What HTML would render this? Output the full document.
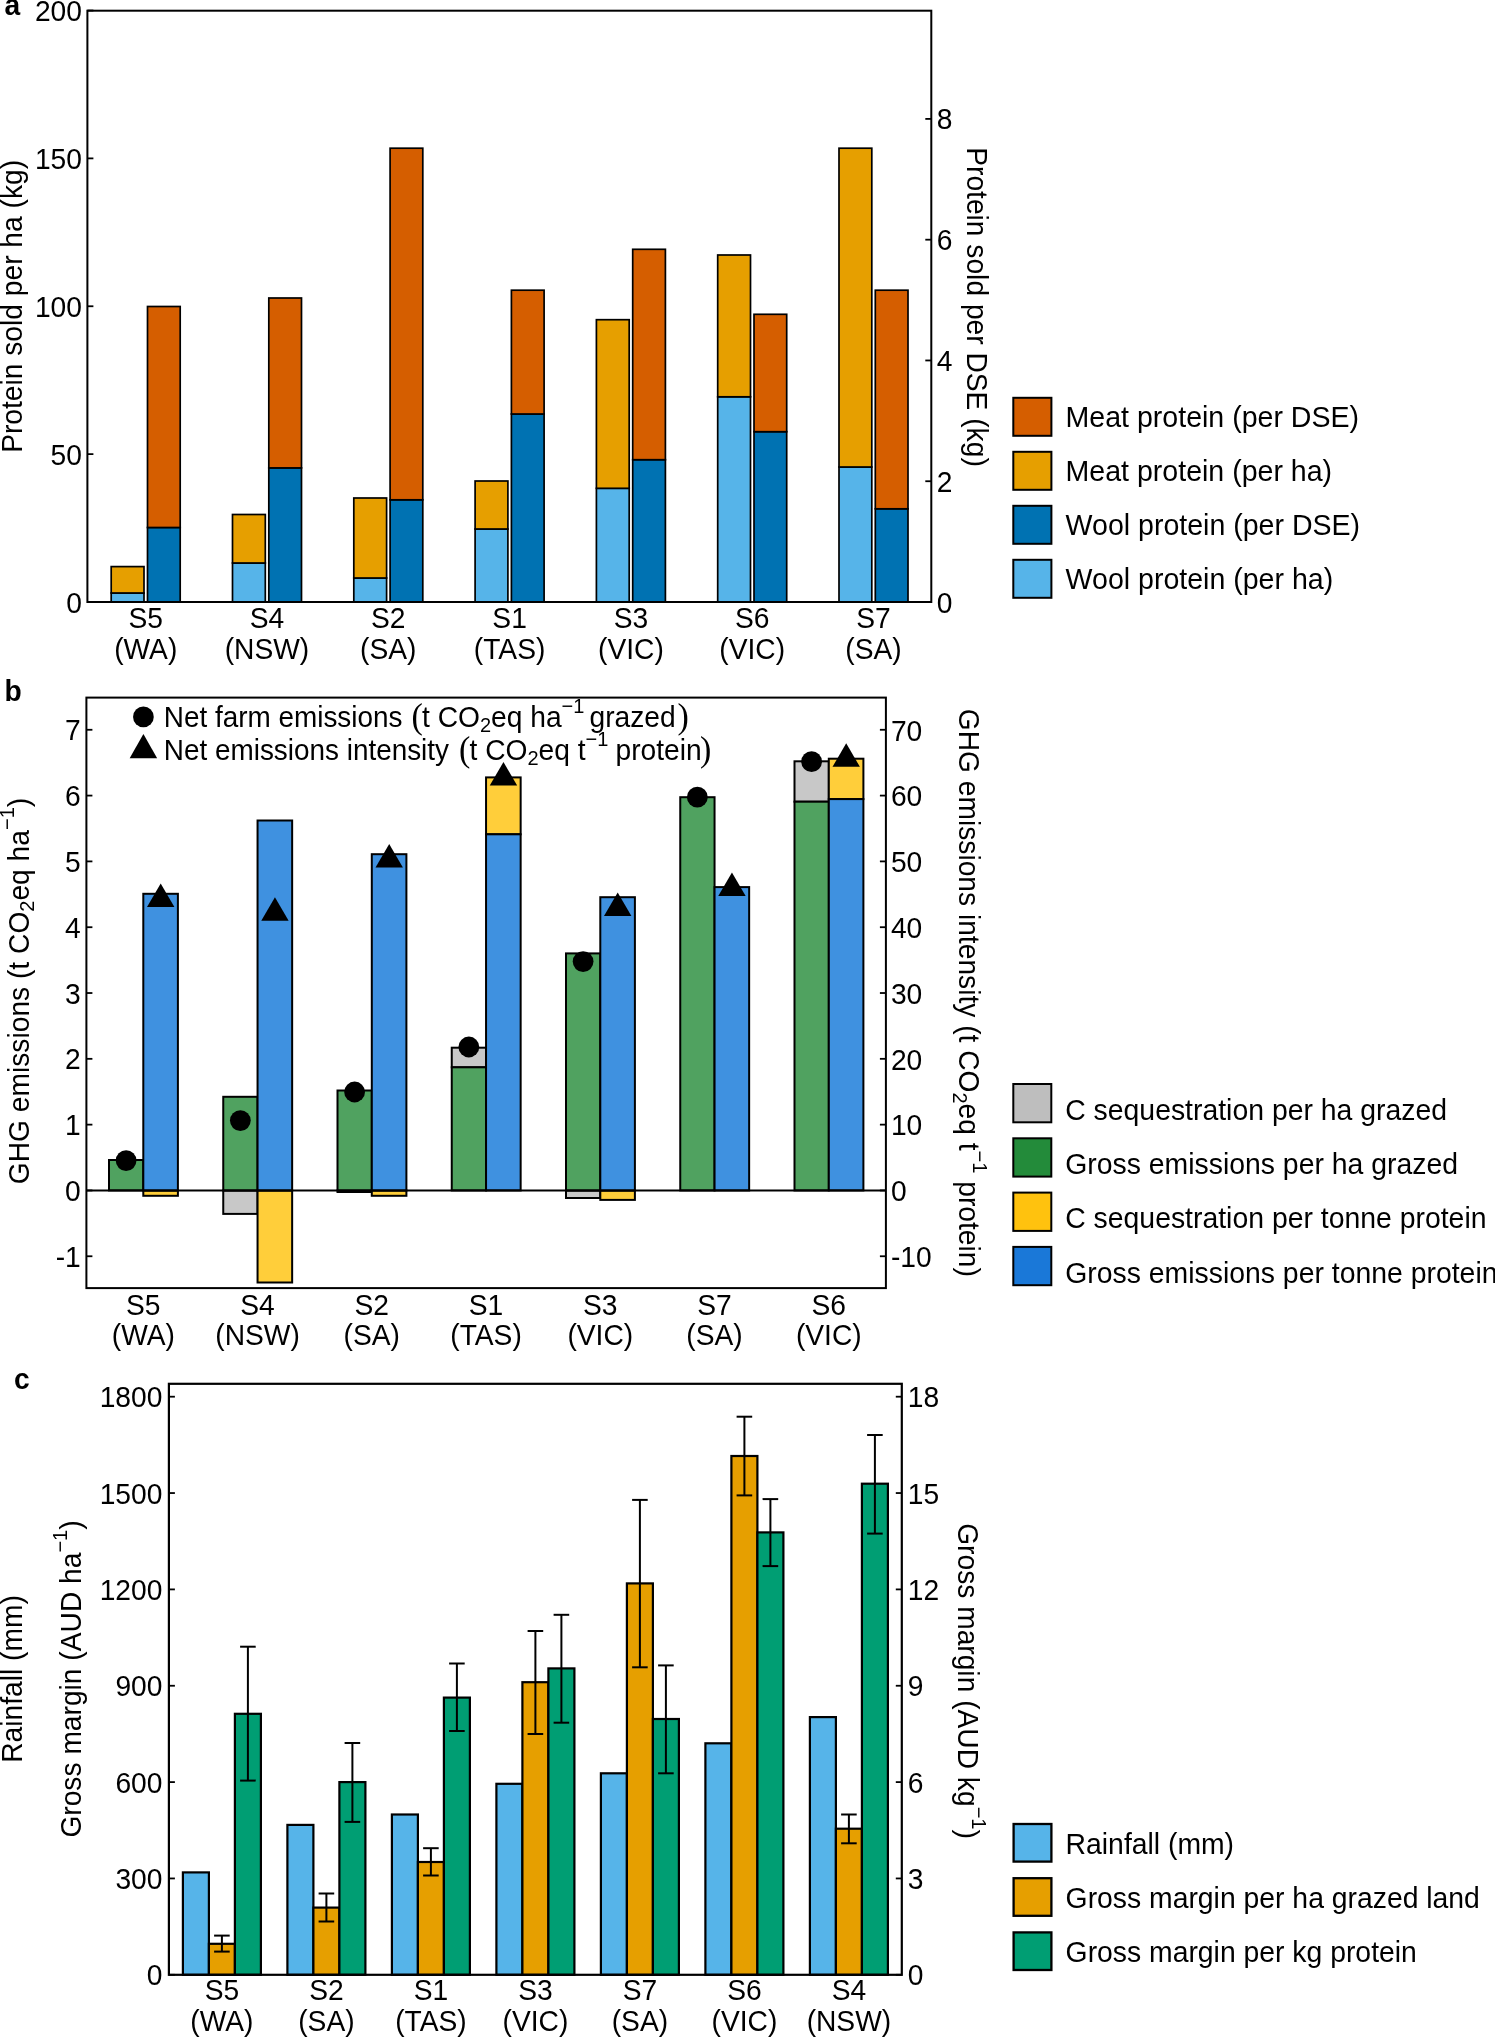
<!DOCTYPE html>
<html><head><meta charset="utf-8"><title>Figure</title>
<style>
html,body{margin:0;padding:0;background:#fff;}
body{width:1495px;height:2038px;overflow:hidden;}
svg{display:block;will-change:transform;}
text{font-family:"Liberation Sans", sans-serif;fill:#000;}
</style></head>
<body>
<svg width="1495" height="2038" viewBox="0 0 1495 2038">
<rect x="0" y="0" width="1495" height="2038" fill="#fff"/>
<rect x="111.20" y="593.00" width="32.80" height="9.00" fill="#56B4E9" stroke="#000" stroke-width="1.7"/>
<rect x="111.20" y="566.60" width="32.80" height="26.40" fill="#E69F00" stroke="#000" stroke-width="1.7"/>
<rect x="147.50" y="527.50" width="32.70" height="74.50" fill="#0072B2" stroke="#000" stroke-width="1.7"/>
<rect x="147.50" y="306.50" width="32.70" height="221.00" fill="#D55E00" stroke="#000" stroke-width="1.7"/>
<rect x="232.50" y="563.00" width="32.80" height="39.00" fill="#56B4E9" stroke="#000" stroke-width="1.7"/>
<rect x="232.50" y="514.50" width="32.80" height="48.50" fill="#E69F00" stroke="#000" stroke-width="1.7"/>
<rect x="268.80" y="467.90" width="32.70" height="134.10" fill="#0072B2" stroke="#000" stroke-width="1.7"/>
<rect x="268.80" y="298.00" width="32.70" height="169.90" fill="#D55E00" stroke="#000" stroke-width="1.7"/>
<rect x="353.80" y="578.00" width="32.80" height="24.00" fill="#56B4E9" stroke="#000" stroke-width="1.7"/>
<rect x="353.80" y="498.00" width="32.80" height="80.00" fill="#E69F00" stroke="#000" stroke-width="1.7"/>
<rect x="390.10" y="499.80" width="32.70" height="102.20" fill="#0072B2" stroke="#000" stroke-width="1.7"/>
<rect x="390.10" y="148.20" width="32.70" height="351.60" fill="#D55E00" stroke="#000" stroke-width="1.7"/>
<rect x="475.10" y="529.00" width="32.80" height="73.00" fill="#56B4E9" stroke="#000" stroke-width="1.7"/>
<rect x="475.10" y="481.00" width="32.80" height="48.00" fill="#E69F00" stroke="#000" stroke-width="1.7"/>
<rect x="511.40" y="414.00" width="32.70" height="188.00" fill="#0072B2" stroke="#000" stroke-width="1.7"/>
<rect x="511.40" y="290.20" width="32.70" height="123.80" fill="#D55E00" stroke="#000" stroke-width="1.7"/>
<rect x="596.40" y="488.30" width="32.80" height="113.70" fill="#56B4E9" stroke="#000" stroke-width="1.7"/>
<rect x="596.40" y="319.70" width="32.80" height="168.60" fill="#E69F00" stroke="#000" stroke-width="1.7"/>
<rect x="632.70" y="459.70" width="32.70" height="142.30" fill="#0072B2" stroke="#000" stroke-width="1.7"/>
<rect x="632.70" y="249.30" width="32.70" height="210.40" fill="#D55E00" stroke="#000" stroke-width="1.7"/>
<rect x="717.70" y="396.80" width="32.80" height="205.20" fill="#56B4E9" stroke="#000" stroke-width="1.7"/>
<rect x="717.70" y="255.00" width="32.80" height="141.80" fill="#E69F00" stroke="#000" stroke-width="1.7"/>
<rect x="754.00" y="431.70" width="32.70" height="170.30" fill="#0072B2" stroke="#000" stroke-width="1.7"/>
<rect x="754.00" y="314.30" width="32.70" height="117.40" fill="#D55E00" stroke="#000" stroke-width="1.7"/>
<rect x="839.00" y="467.00" width="32.80" height="135.00" fill="#56B4E9" stroke="#000" stroke-width="1.7"/>
<rect x="839.00" y="148.20" width="32.80" height="318.80" fill="#E69F00" stroke="#000" stroke-width="1.7"/>
<rect x="875.30" y="508.80" width="32.70" height="93.20" fill="#0072B2" stroke="#000" stroke-width="1.7"/>
<rect x="875.30" y="290.20" width="32.70" height="218.60" fill="#D55E00" stroke="#000" stroke-width="1.7"/>
<rect x="87.4" y="10.7" width="843.90" height="591.30" fill="none" stroke="#000" stroke-width="2.0"/>
<line x1="87.40" y1="602.00" x2="93.40" y2="602.00" stroke="#000" stroke-width="1.8"/>
<text transform="translate(81.90,612.50) scale(1,1.03)" text-anchor="end" font-size="28.2" font-weight="normal" >0</text>
<line x1="87.40" y1="454.13" x2="93.40" y2="454.13" stroke="#000" stroke-width="1.8"/>
<text transform="translate(81.90,464.63) scale(1,1.03)" text-anchor="end" font-size="28.2" font-weight="normal" >50</text>
<line x1="87.40" y1="306.26" x2="93.40" y2="306.26" stroke="#000" stroke-width="1.8"/>
<text transform="translate(81.90,316.76) scale(1,1.03)" text-anchor="end" font-size="28.2" font-weight="normal" >100</text>
<line x1="87.40" y1="158.39" x2="93.40" y2="158.39" stroke="#000" stroke-width="1.8"/>
<text transform="translate(81.90,168.89) scale(1,1.03)" text-anchor="end" font-size="28.2" font-weight="normal" >150</text>
<line x1="87.40" y1="10.52" x2="93.40" y2="10.52" stroke="#000" stroke-width="1.8"/>
<text transform="translate(81.90,21.02) scale(1,1.03)" text-anchor="end" font-size="28.2" font-weight="normal" >200</text>
<line x1="925.30" y1="602.00" x2="931.30" y2="602.00" stroke="#000" stroke-width="1.8"/>
<text transform="translate(936.80,612.50) scale(1,1.03)" text-anchor="start" font-size="28.2" font-weight="normal" >0</text>
<line x1="925.30" y1="481.23" x2="931.30" y2="481.23" stroke="#000" stroke-width="1.8"/>
<text transform="translate(936.80,491.73) scale(1,1.03)" text-anchor="start" font-size="28.2" font-weight="normal" >2</text>
<line x1="925.30" y1="360.46" x2="931.30" y2="360.46" stroke="#000" stroke-width="1.8"/>
<text transform="translate(936.80,370.96) scale(1,1.03)" text-anchor="start" font-size="28.2" font-weight="normal" >4</text>
<line x1="925.30" y1="239.69" x2="931.30" y2="239.69" stroke="#000" stroke-width="1.8"/>
<text transform="translate(936.80,250.19) scale(1,1.03)" text-anchor="start" font-size="28.2" font-weight="normal" >6</text>
<line x1="925.30" y1="118.92" x2="931.30" y2="118.92" stroke="#000" stroke-width="1.8"/>
<text transform="translate(936.80,129.42) scale(1,1.03)" text-anchor="start" font-size="28.2" font-weight="normal" >8</text>
<text transform="translate(145.70,628.00) scale(1,1.03)" text-anchor="middle" font-size="28.2" font-weight="normal" >S5</text>
<text transform="translate(145.70,659.40) scale(1,1.03)" text-anchor="middle" font-size="28.2" font-weight="normal" >(WA)</text>
<text transform="translate(267.00,628.00) scale(1,1.03)" text-anchor="middle" font-size="28.2" font-weight="normal" >S4</text>
<text transform="translate(267.00,659.40) scale(1,1.03)" text-anchor="middle" font-size="28.2" font-weight="normal" >(NSW)</text>
<text transform="translate(388.30,628.00) scale(1,1.03)" text-anchor="middle" font-size="28.2" font-weight="normal" >S2</text>
<text transform="translate(388.30,659.40) scale(1,1.03)" text-anchor="middle" font-size="28.2" font-weight="normal" >(SA)</text>
<text transform="translate(509.60,628.00) scale(1,1.03)" text-anchor="middle" font-size="28.2" font-weight="normal" >S1</text>
<text transform="translate(509.60,659.40) scale(1,1.03)" text-anchor="middle" font-size="28.2" font-weight="normal" >(TAS)</text>
<text transform="translate(630.90,628.00) scale(1,1.03)" text-anchor="middle" font-size="28.2" font-weight="normal" >S3</text>
<text transform="translate(630.90,659.40) scale(1,1.03)" text-anchor="middle" font-size="28.2" font-weight="normal" >(VIC)</text>
<text transform="translate(752.20,628.00) scale(1,1.03)" text-anchor="middle" font-size="28.2" font-weight="normal" >S6</text>
<text transform="translate(752.20,659.40) scale(1,1.03)" text-anchor="middle" font-size="28.2" font-weight="normal" >(VIC)</text>
<text transform="translate(873.50,628.00) scale(1,1.03)" text-anchor="middle" font-size="28.2" font-weight="normal" >S7</text>
<text transform="translate(873.50,659.40) scale(1,1.03)" text-anchor="middle" font-size="28.2" font-weight="normal" >(SA)</text>
<text transform="translate(21.6,306.4) rotate(-90) scale(1,1.03)" text-anchor="middle" font-size="28.2">Protein sold per ha (kg)</text>
<text transform="translate(967,307) rotate(90) scale(1,1.03)" text-anchor="middle" font-size="28.2">Protein sold per DSE (kg)</text>
<text transform="translate(4.50,15.40) scale(1,1.03)" text-anchor="start" font-size="28.2" font-weight="bold" >a</text>
<rect x="1013.30" y="397.80" width="38.10" height="38.00" fill="#D55E00" stroke="#000" stroke-width="2.0"/>
<text transform="translate(1065.60,427.20) scale(1,1.03)" text-anchor="start" font-size="28.55" font-weight="normal" >Meat protein (per DSE)</text>
<rect x="1013.30" y="451.80" width="38.10" height="38.00" fill="#E69F00" stroke="#000" stroke-width="2.0"/>
<text transform="translate(1065.60,481.20) scale(1,1.03)" text-anchor="start" font-size="28.55" font-weight="normal" >Meat protein (per ha)</text>
<rect x="1013.30" y="505.80" width="38.10" height="38.00" fill="#0072B2" stroke="#000" stroke-width="2.0"/>
<text transform="translate(1065.60,535.20) scale(1,1.03)" text-anchor="start" font-size="28.55" font-weight="normal" >Wool protein (per DSE)</text>
<rect x="1013.30" y="559.80" width="38.10" height="38.00" fill="#56B4E9" stroke="#000" stroke-width="2.0"/>
<text transform="translate(1065.60,589.20) scale(1,1.03)" text-anchor="start" font-size="28.55" font-weight="normal" >Wool protein (per ha)</text>
<rect x="109.00" y="1160.00" width="34.30" height="30.45" fill="#50A260" stroke="#000" stroke-width="2.0"/>
<rect x="143.30" y="1190.45" width="34.60" height="5.35" fill="#FFCE3A" stroke="#000" stroke-width="2.0"/>
<rect x="143.30" y="893.80" width="34.60" height="296.65" fill="#3F91E0" stroke="#000" stroke-width="2.0"/>
<rect x="223.25" y="1190.45" width="34.30" height="23.45" fill="#C8C8C8" stroke="#000" stroke-width="2.0"/>
<rect x="223.25" y="1096.80" width="34.30" height="93.65" fill="#50A260" stroke="#000" stroke-width="2.0"/>
<rect x="257.55" y="1190.45" width="34.60" height="92.05" fill="#FFCE3A" stroke="#000" stroke-width="2.0"/>
<rect x="257.55" y="820.50" width="34.60" height="369.95" fill="#3F91E0" stroke="#000" stroke-width="2.0"/>
<rect x="337.50" y="1190.45" width="34.30" height="1.55" fill="#C8C8C8" stroke="#000" stroke-width="2.0"/>
<rect x="337.50" y="1090.50" width="34.30" height="99.95" fill="#50A260" stroke="#000" stroke-width="2.0"/>
<rect x="371.80" y="1190.45" width="34.60" height="5.35" fill="#FFCE3A" stroke="#000" stroke-width="2.0"/>
<rect x="371.80" y="854.20" width="34.60" height="336.25" fill="#3F91E0" stroke="#000" stroke-width="2.0"/>
<rect x="451.75" y="1047.70" width="34.30" height="19.60" fill="#C8C8C8" stroke="#000" stroke-width="2.0"/>
<rect x="451.75" y="1067.30" width="34.30" height="123.15" fill="#50A260" stroke="#000" stroke-width="2.0"/>
<rect x="486.05" y="777.40" width="34.60" height="56.90" fill="#FFCE3A" stroke="#000" stroke-width="2.0"/>
<rect x="486.05" y="834.30" width="34.60" height="356.15" fill="#3F91E0" stroke="#000" stroke-width="2.0"/>
<rect x="566.00" y="1190.45" width="34.30" height="7.55" fill="#C8C8C8" stroke="#000" stroke-width="2.0"/>
<rect x="566.00" y="953.40" width="34.30" height="237.05" fill="#50A260" stroke="#000" stroke-width="2.0"/>
<rect x="600.30" y="1190.45" width="34.60" height="9.45" fill="#FFCE3A" stroke="#000" stroke-width="2.0"/>
<rect x="600.30" y="897.20" width="34.60" height="293.25" fill="#3F91E0" stroke="#000" stroke-width="2.0"/>
<rect x="680.25" y="797.20" width="34.30" height="393.25" fill="#50A260" stroke="#000" stroke-width="2.0"/>
<rect x="714.55" y="887.10" width="34.60" height="303.35" fill="#3F91E0" stroke="#000" stroke-width="2.0"/>
<rect x="794.50" y="761.30" width="34.30" height="40.40" fill="#C8C8C8" stroke="#000" stroke-width="2.0"/>
<rect x="794.50" y="801.70" width="34.30" height="388.75" fill="#50A260" stroke="#000" stroke-width="2.0"/>
<rect x="828.80" y="758.70" width="34.60" height="40.40" fill="#FFCE3A" stroke="#000" stroke-width="2.0"/>
<rect x="828.80" y="799.10" width="34.60" height="391.35" fill="#3F91E0" stroke="#000" stroke-width="2.0"/>
<line x1="86.40" y1="1190.45" x2="885.90" y2="1190.45" stroke="#000" stroke-width="2.0"/>
<circle cx="126.10" cy="1160.60" r="10.4" fill="#000"/>
<polygon points="147.00,906.90 174.40,906.90 160.70,883.40" fill="#000"/>
<circle cx="240.35" cy="1120.60" r="10.4" fill="#000"/>
<polygon points="261.25,920.80 288.65,920.80 274.95,897.30" fill="#000"/>
<circle cx="354.60" cy="1092.00" r="10.4" fill="#000"/>
<polygon points="375.50,867.50 402.90,867.50 389.20,844.00" fill="#000"/>
<circle cx="468.85" cy="1047.00" r="10.4" fill="#000"/>
<polygon points="489.75,785.55 517.15,785.55 503.45,762.05" fill="#000"/>
<circle cx="583.10" cy="961.60" r="10.4" fill="#000"/>
<polygon points="604.00,915.95 631.40,915.95 617.70,892.45" fill="#000"/>
<circle cx="697.35" cy="797.20" r="10.4" fill="#000"/>
<polygon points="718.25,896.10 745.65,896.10 731.95,872.60" fill="#000"/>
<circle cx="811.60" cy="761.60" r="10.4" fill="#000"/>
<polygon points="832.50,766.85 859.90,766.85 846.20,743.35" fill="#000"/>
<rect x="86.4" y="697.6" width="799.50" height="590.50" fill="none" stroke="#000" stroke-width="2.0"/>
<line x1="86.40" y1="1256.26" x2="92.40" y2="1256.26" stroke="#000" stroke-width="1.8"/>
<line x1="879.90" y1="1256.26" x2="885.90" y2="1256.26" stroke="#000" stroke-width="1.8"/>
<text transform="translate(80.80,1266.76) scale(1,1.03)" text-anchor="end" font-size="28.2" font-weight="normal" >-1</text>
<text transform="translate(890.90,1267.06) scale(1,1.03)" text-anchor="start" font-size="28.2" font-weight="normal" >-10</text>
<line x1="86.40" y1="1190.45" x2="92.40" y2="1190.45" stroke="#000" stroke-width="1.8"/>
<line x1="879.90" y1="1190.45" x2="885.90" y2="1190.45" stroke="#000" stroke-width="1.8"/>
<text transform="translate(80.80,1200.95) scale(1,1.03)" text-anchor="end" font-size="28.2" font-weight="normal" >0</text>
<text transform="translate(890.90,1201.25) scale(1,1.03)" text-anchor="start" font-size="28.2" font-weight="normal" >0</text>
<line x1="86.40" y1="1124.64" x2="92.40" y2="1124.64" stroke="#000" stroke-width="1.8"/>
<line x1="879.90" y1="1124.64" x2="885.90" y2="1124.64" stroke="#000" stroke-width="1.8"/>
<text transform="translate(80.80,1135.14) scale(1,1.03)" text-anchor="end" font-size="28.2" font-weight="normal" >1</text>
<text transform="translate(890.90,1135.44) scale(1,1.03)" text-anchor="start" font-size="28.2" font-weight="normal" >10</text>
<line x1="86.40" y1="1058.83" x2="92.40" y2="1058.83" stroke="#000" stroke-width="1.8"/>
<line x1="879.90" y1="1058.83" x2="885.90" y2="1058.83" stroke="#000" stroke-width="1.8"/>
<text transform="translate(80.80,1069.33) scale(1,1.03)" text-anchor="end" font-size="28.2" font-weight="normal" >2</text>
<text transform="translate(890.90,1069.63) scale(1,1.03)" text-anchor="start" font-size="28.2" font-weight="normal" >20</text>
<line x1="86.40" y1="993.02" x2="92.40" y2="993.02" stroke="#000" stroke-width="1.8"/>
<line x1="879.90" y1="993.02" x2="885.90" y2="993.02" stroke="#000" stroke-width="1.8"/>
<text transform="translate(80.80,1003.52) scale(1,1.03)" text-anchor="end" font-size="28.2" font-weight="normal" >3</text>
<text transform="translate(890.90,1003.82) scale(1,1.03)" text-anchor="start" font-size="28.2" font-weight="normal" >30</text>
<line x1="86.40" y1="927.21" x2="92.40" y2="927.21" stroke="#000" stroke-width="1.8"/>
<line x1="879.90" y1="927.21" x2="885.90" y2="927.21" stroke="#000" stroke-width="1.8"/>
<text transform="translate(80.80,937.71) scale(1,1.03)" text-anchor="end" font-size="28.2" font-weight="normal" >4</text>
<text transform="translate(890.90,938.01) scale(1,1.03)" text-anchor="start" font-size="28.2" font-weight="normal" >40</text>
<line x1="86.40" y1="861.40" x2="92.40" y2="861.40" stroke="#000" stroke-width="1.8"/>
<line x1="879.90" y1="861.40" x2="885.90" y2="861.40" stroke="#000" stroke-width="1.8"/>
<text transform="translate(80.80,871.90) scale(1,1.03)" text-anchor="end" font-size="28.2" font-weight="normal" >5</text>
<text transform="translate(890.90,872.20) scale(1,1.03)" text-anchor="start" font-size="28.2" font-weight="normal" >50</text>
<line x1="86.40" y1="795.59" x2="92.40" y2="795.59" stroke="#000" stroke-width="1.8"/>
<line x1="879.90" y1="795.59" x2="885.90" y2="795.59" stroke="#000" stroke-width="1.8"/>
<text transform="translate(80.80,806.09) scale(1,1.03)" text-anchor="end" font-size="28.2" font-weight="normal" >6</text>
<text transform="translate(890.90,806.39) scale(1,1.03)" text-anchor="start" font-size="28.2" font-weight="normal" >60</text>
<line x1="86.40" y1="729.78" x2="92.40" y2="729.78" stroke="#000" stroke-width="1.8"/>
<line x1="879.90" y1="729.78" x2="885.90" y2="729.78" stroke="#000" stroke-width="1.8"/>
<text transform="translate(80.80,740.28) scale(1,1.03)" text-anchor="end" font-size="28.2" font-weight="normal" >7</text>
<text transform="translate(890.90,740.58) scale(1,1.03)" text-anchor="start" font-size="28.2" font-weight="normal" >70</text>
<text transform="translate(143.30,1314.50) scale(1,1.03)" text-anchor="middle" font-size="28.2" font-weight="normal" >S5</text>
<text transform="translate(143.30,1344.60) scale(1,1.03)" text-anchor="middle" font-size="28.2" font-weight="normal" >(WA)</text>
<text transform="translate(257.55,1314.50) scale(1,1.03)" text-anchor="middle" font-size="28.2" font-weight="normal" >S4</text>
<text transform="translate(257.55,1344.60) scale(1,1.03)" text-anchor="middle" font-size="28.2" font-weight="normal" >(NSW)</text>
<text transform="translate(371.80,1314.50) scale(1,1.03)" text-anchor="middle" font-size="28.2" font-weight="normal" >S2</text>
<text transform="translate(371.80,1344.60) scale(1,1.03)" text-anchor="middle" font-size="28.2" font-weight="normal" >(SA)</text>
<text transform="translate(486.05,1314.50) scale(1,1.03)" text-anchor="middle" font-size="28.2" font-weight="normal" >S1</text>
<text transform="translate(486.05,1344.60) scale(1,1.03)" text-anchor="middle" font-size="28.2" font-weight="normal" >(TAS)</text>
<text transform="translate(600.30,1314.50) scale(1,1.03)" text-anchor="middle" font-size="28.2" font-weight="normal" >S3</text>
<text transform="translate(600.30,1344.60) scale(1,1.03)" text-anchor="middle" font-size="28.2" font-weight="normal" >(VIC)</text>
<text transform="translate(714.55,1314.50) scale(1,1.03)" text-anchor="middle" font-size="28.2" font-weight="normal" >S7</text>
<text transform="translate(714.55,1344.60) scale(1,1.03)" text-anchor="middle" font-size="28.2" font-weight="normal" >(SA)</text>
<text transform="translate(828.80,1314.50) scale(1,1.03)" text-anchor="middle" font-size="28.2" font-weight="normal" >S6</text>
<text transform="translate(828.80,1344.60) scale(1,1.03)" text-anchor="middle" font-size="28.2" font-weight="normal" >(VIC)</text>
<text transform="translate(4.50,700.70) scale(1,1.03)" text-anchor="start" font-size="28.2" font-weight="bold" >b</text>
<circle cx="143.40" cy="716.90" r="10.35" fill="#000"/>
<polygon points="129.65,758.20 157.15,758.20 143.40,734.10" fill="#000"/>
<text transform="translate(0,727.10) scale(1,1.03)" font-size="28.2"><tspan x="163.80" y="0.00" font-size="27.9">Net farm emissions</tspan><tspan x="411.60" y="1.17" font-size="34" font-family="Liberation Serif">(</tspan><tspan x="422.00" y="0.00" font-size="28.2">t CO</tspan><tspan y="4.47" font-size="20">2</tspan><tspan y="0.00" font-size="28.2">eq ha</tspan><tspan y="-13.59" font-size="20">−1</tspan><tspan x="589.50" y="0.00" font-size="28.2">grazed</tspan><tspan x="677.60" y="1.17" font-size="34" font-family="Liberation Serif">)</tspan></text>
<text transform="translate(0,760.20) scale(1,1.03)" font-size="28.2"><tspan x="163.80" y="0.00" font-size="27.9">Net emissions intensity</tspan><tspan x="459.10" y="1.17" font-size="34" font-family="Liberation Serif">(</tspan><tspan x="469.50" y="0.00" font-size="28.2">t CO</tspan><tspan y="4.47" font-size="20">2</tspan><tspan y="0.00" font-size="28.2">eq t</tspan><tspan y="-13.59" font-size="20">−1</tspan><tspan x="615.50" y="0.00" font-size="28.2">protein</tspan><tspan x="700.10" y="1.17" font-size="34" font-family="Liberation Serif">)</tspan></text>
<text transform="translate(28.5,991) rotate(-90) scale(1,1.03)" text-anchor="middle" font-size="28.2">GHG emissions (t CO<tspan dy="5" font-size="20">2</tspan><tspan dy="-5">eq ha</tspan><tspan dy="-14" font-size="20">−1</tspan><tspan dy="14">)</tspan></text>
<text transform="translate(958.5,992.8) rotate(90) scale(1,1.03)" text-anchor="middle" font-size="28.2">GHG emissions intensity (t CO<tspan dy="5" font-size="20">2</tspan><tspan dy="-5">eq t</tspan><tspan dy="-14" font-size="20">−1</tspan><tspan dy="14"> protein)</tspan></text>
<rect x="1013.30" y="1084.00" width="38.00" height="38.30" fill="#BEBEBE" stroke="#000" stroke-width="2.0"/>
<text transform="translate(1065.20,1119.70) scale(1,1.03)" text-anchor="start" font-size="28.4" font-weight="normal" >C sequestration per ha grazed</text>
<rect x="1013.30" y="1138.30" width="38.00" height="38.30" fill="#238B3A" stroke="#000" stroke-width="2.0"/>
<text transform="translate(1065.20,1174.00) scale(1,1.03)" text-anchor="start" font-size="28.4" font-weight="normal" >Gross emissions per ha grazed</text>
<rect x="1013.30" y="1192.60" width="38.00" height="38.30" fill="#FFC20E" stroke="#000" stroke-width="2.0"/>
<text transform="translate(1065.20,1228.30) scale(1,1.03)" text-anchor="start" font-size="28.4" font-weight="normal" >C sequestration per tonne protein</text>
<rect x="1013.30" y="1246.90" width="38.00" height="38.30" fill="#1A78D8" stroke="#000" stroke-width="2.0"/>
<text transform="translate(1065.20,1282.60) scale(1,1.03)" text-anchor="start" font-size="28.4" font-weight="normal" >Gross emissions per tonne protein</text>
<rect x="182.90" y="1872.40" width="26.00" height="102.40" fill="#56B4E9" stroke="#000" stroke-width="2.2"/>
<rect x="208.90" y="1943.80" width="26.00" height="31.00" fill="#E69F00" stroke="#000" stroke-width="2.2"/>
<rect x="234.90" y="1713.80" width="26.00" height="261.00" fill="#009E73" stroke="#000" stroke-width="2.2"/>
<rect x="287.40" y="1824.90" width="26.00" height="149.90" fill="#56B4E9" stroke="#000" stroke-width="2.2"/>
<rect x="313.40" y="1907.60" width="26.00" height="67.20" fill="#E69F00" stroke="#000" stroke-width="2.2"/>
<rect x="339.40" y="1782.10" width="26.00" height="192.70" fill="#009E73" stroke="#000" stroke-width="2.2"/>
<rect x="391.90" y="1814.50" width="26.00" height="160.30" fill="#56B4E9" stroke="#000" stroke-width="2.2"/>
<rect x="417.90" y="1862.00" width="26.00" height="112.80" fill="#E69F00" stroke="#000" stroke-width="2.2"/>
<rect x="443.90" y="1697.60" width="26.00" height="277.20" fill="#009E73" stroke="#000" stroke-width="2.2"/>
<rect x="496.40" y="1783.80" width="26.00" height="191.00" fill="#56B4E9" stroke="#000" stroke-width="2.2"/>
<rect x="522.40" y="1682.20" width="26.00" height="292.60" fill="#E69F00" stroke="#000" stroke-width="2.2"/>
<rect x="548.40" y="1668.40" width="26.00" height="306.40" fill="#009E73" stroke="#000" stroke-width="2.2"/>
<rect x="600.90" y="1773.30" width="26.00" height="201.50" fill="#56B4E9" stroke="#000" stroke-width="2.2"/>
<rect x="626.90" y="1583.40" width="26.00" height="391.40" fill="#E69F00" stroke="#000" stroke-width="2.2"/>
<rect x="652.90" y="1719.00" width="26.00" height="255.80" fill="#009E73" stroke="#000" stroke-width="2.2"/>
<rect x="705.40" y="1743.30" width="26.00" height="231.50" fill="#56B4E9" stroke="#000" stroke-width="2.2"/>
<rect x="731.40" y="1456.00" width="26.00" height="518.80" fill="#E69F00" stroke="#000" stroke-width="2.2"/>
<rect x="757.40" y="1532.40" width="26.00" height="442.40" fill="#009E73" stroke="#000" stroke-width="2.2"/>
<rect x="809.90" y="1717.10" width="26.00" height="257.70" fill="#56B4E9" stroke="#000" stroke-width="2.2"/>
<rect x="835.90" y="1828.70" width="26.00" height="146.10" fill="#E69F00" stroke="#000" stroke-width="2.2"/>
<rect x="861.90" y="1483.70" width="26.00" height="491.10" fill="#009E73" stroke="#000" stroke-width="2.2"/>
<line x1="221.90" y1="1935.60" x2="221.90" y2="1951.60" stroke="#000" stroke-width="2.0"/>
<line x1="214.10" y1="1935.60" x2="229.70" y2="1935.60" stroke="#000" stroke-width="2.0"/>
<line x1="214.10" y1="1951.60" x2="229.70" y2="1951.60" stroke="#000" stroke-width="2.0"/>
<line x1="247.90" y1="1646.70" x2="247.90" y2="1780.60" stroke="#000" stroke-width="2.0"/>
<line x1="240.10" y1="1646.70" x2="255.70" y2="1646.70" stroke="#000" stroke-width="2.0"/>
<line x1="240.10" y1="1780.60" x2="255.70" y2="1780.60" stroke="#000" stroke-width="2.0"/>
<line x1="326.40" y1="1893.50" x2="326.40" y2="1921.50" stroke="#000" stroke-width="2.0"/>
<line x1="318.60" y1="1893.50" x2="334.20" y2="1893.50" stroke="#000" stroke-width="2.0"/>
<line x1="318.60" y1="1921.50" x2="334.20" y2="1921.50" stroke="#000" stroke-width="2.0"/>
<line x1="352.40" y1="1743.00" x2="352.40" y2="1821.90" stroke="#000" stroke-width="2.0"/>
<line x1="344.60" y1="1743.00" x2="360.20" y2="1743.00" stroke="#000" stroke-width="2.0"/>
<line x1="344.60" y1="1821.90" x2="360.20" y2="1821.90" stroke="#000" stroke-width="2.0"/>
<line x1="430.90" y1="1848.20" x2="430.90" y2="1875.50" stroke="#000" stroke-width="2.0"/>
<line x1="423.10" y1="1848.20" x2="438.70" y2="1848.20" stroke="#000" stroke-width="2.0"/>
<line x1="423.10" y1="1875.50" x2="438.70" y2="1875.50" stroke="#000" stroke-width="2.0"/>
<line x1="456.90" y1="1663.50" x2="456.90" y2="1731.00" stroke="#000" stroke-width="2.0"/>
<line x1="449.10" y1="1663.50" x2="464.70" y2="1663.50" stroke="#000" stroke-width="2.0"/>
<line x1="449.10" y1="1731.00" x2="464.70" y2="1731.00" stroke="#000" stroke-width="2.0"/>
<line x1="535.40" y1="1631.00" x2="535.40" y2="1734.00" stroke="#000" stroke-width="2.0"/>
<line x1="527.60" y1="1631.00" x2="543.20" y2="1631.00" stroke="#000" stroke-width="2.0"/>
<line x1="527.60" y1="1734.00" x2="543.20" y2="1734.00" stroke="#000" stroke-width="2.0"/>
<line x1="561.40" y1="1614.80" x2="561.40" y2="1722.70" stroke="#000" stroke-width="2.0"/>
<line x1="553.60" y1="1614.80" x2="569.20" y2="1614.80" stroke="#000" stroke-width="2.0"/>
<line x1="553.60" y1="1722.70" x2="569.20" y2="1722.70" stroke="#000" stroke-width="2.0"/>
<line x1="639.90" y1="1499.90" x2="639.90" y2="1667.30" stroke="#000" stroke-width="2.0"/>
<line x1="632.10" y1="1499.90" x2="647.70" y2="1499.90" stroke="#000" stroke-width="2.0"/>
<line x1="632.10" y1="1667.30" x2="647.70" y2="1667.30" stroke="#000" stroke-width="2.0"/>
<line x1="665.90" y1="1665.40" x2="665.90" y2="1773.30" stroke="#000" stroke-width="2.0"/>
<line x1="658.10" y1="1665.40" x2="673.70" y2="1665.40" stroke="#000" stroke-width="2.0"/>
<line x1="658.10" y1="1773.30" x2="673.70" y2="1773.30" stroke="#000" stroke-width="2.0"/>
<line x1="744.40" y1="1416.70" x2="744.40" y2="1495.40" stroke="#000" stroke-width="2.0"/>
<line x1="736.60" y1="1416.70" x2="752.20" y2="1416.70" stroke="#000" stroke-width="2.0"/>
<line x1="736.60" y1="1495.40" x2="752.20" y2="1495.40" stroke="#000" stroke-width="2.0"/>
<line x1="770.40" y1="1499.10" x2="770.40" y2="1566.10" stroke="#000" stroke-width="2.0"/>
<line x1="762.60" y1="1499.10" x2="778.20" y2="1499.10" stroke="#000" stroke-width="2.0"/>
<line x1="762.60" y1="1566.10" x2="778.20" y2="1566.10" stroke="#000" stroke-width="2.0"/>
<line x1="848.90" y1="1814.50" x2="848.90" y2="1843.30" stroke="#000" stroke-width="2.0"/>
<line x1="841.10" y1="1814.50" x2="856.70" y2="1814.50" stroke="#000" stroke-width="2.0"/>
<line x1="841.10" y1="1843.30" x2="856.70" y2="1843.30" stroke="#000" stroke-width="2.0"/>
<line x1="874.90" y1="1435.00" x2="874.90" y2="1533.60" stroke="#000" stroke-width="2.0"/>
<line x1="867.10" y1="1435.00" x2="882.70" y2="1435.00" stroke="#000" stroke-width="2.0"/>
<line x1="867.10" y1="1533.60" x2="882.70" y2="1533.60" stroke="#000" stroke-width="2.0"/>
<rect x="168.9" y="1383.8" width="732.90" height="591.00" fill="none" stroke="#000" stroke-width="2.2"/>
<line x1="168.90" y1="1974.80" x2="174.90" y2="1974.80" stroke="#000" stroke-width="1.8"/>
<line x1="895.80" y1="1974.80" x2="901.80" y2="1974.80" stroke="#000" stroke-width="1.8"/>
<text transform="translate(162.40,1985.30) scale(1,1.03)" text-anchor="end" font-size="28.2" font-weight="normal" >0</text>
<text transform="translate(907.80,1985.30) scale(1,1.03)" text-anchor="start" font-size="28.2" font-weight="normal" >0</text>
<line x1="168.90" y1="1878.45" x2="174.90" y2="1878.45" stroke="#000" stroke-width="1.8"/>
<line x1="895.80" y1="1878.45" x2="901.80" y2="1878.45" stroke="#000" stroke-width="1.8"/>
<text transform="translate(162.40,1888.95) scale(1,1.03)" text-anchor="end" font-size="28.2" font-weight="normal" >300</text>
<text transform="translate(907.80,1888.95) scale(1,1.03)" text-anchor="start" font-size="28.2" font-weight="normal" >3</text>
<line x1="168.90" y1="1782.10" x2="174.90" y2="1782.10" stroke="#000" stroke-width="1.8"/>
<line x1="895.80" y1="1782.10" x2="901.80" y2="1782.10" stroke="#000" stroke-width="1.8"/>
<text transform="translate(162.40,1792.60) scale(1,1.03)" text-anchor="end" font-size="28.2" font-weight="normal" >600</text>
<text transform="translate(907.80,1792.60) scale(1,1.03)" text-anchor="start" font-size="28.2" font-weight="normal" >6</text>
<line x1="168.90" y1="1685.75" x2="174.90" y2="1685.75" stroke="#000" stroke-width="1.8"/>
<line x1="895.80" y1="1685.75" x2="901.80" y2="1685.75" stroke="#000" stroke-width="1.8"/>
<text transform="translate(162.40,1696.25) scale(1,1.03)" text-anchor="end" font-size="28.2" font-weight="normal" >900</text>
<text transform="translate(907.80,1696.25) scale(1,1.03)" text-anchor="start" font-size="28.2" font-weight="normal" >9</text>
<line x1="168.90" y1="1589.40" x2="174.90" y2="1589.40" stroke="#000" stroke-width="1.8"/>
<line x1="895.80" y1="1589.40" x2="901.80" y2="1589.40" stroke="#000" stroke-width="1.8"/>
<text transform="translate(162.40,1599.90) scale(1,1.03)" text-anchor="end" font-size="28.2" font-weight="normal" >1200</text>
<text transform="translate(907.80,1599.90) scale(1,1.03)" text-anchor="start" font-size="28.2" font-weight="normal" >12</text>
<line x1="168.90" y1="1493.05" x2="174.90" y2="1493.05" stroke="#000" stroke-width="1.8"/>
<line x1="895.80" y1="1493.05" x2="901.80" y2="1493.05" stroke="#000" stroke-width="1.8"/>
<text transform="translate(162.40,1503.55) scale(1,1.03)" text-anchor="end" font-size="28.2" font-weight="normal" >1500</text>
<text transform="translate(907.80,1503.55) scale(1,1.03)" text-anchor="start" font-size="28.2" font-weight="normal" >15</text>
<line x1="168.90" y1="1396.70" x2="174.90" y2="1396.70" stroke="#000" stroke-width="1.8"/>
<line x1="895.80" y1="1396.70" x2="901.80" y2="1396.70" stroke="#000" stroke-width="1.8"/>
<text transform="translate(162.40,1407.20) scale(1,1.03)" text-anchor="end" font-size="28.2" font-weight="normal" >1800</text>
<text transform="translate(907.80,1407.20) scale(1,1.03)" text-anchor="start" font-size="28.2" font-weight="normal" >18</text>
<text transform="translate(221.90,2000.10) scale(1,1.03)" text-anchor="middle" font-size="28.2" font-weight="normal" >S5</text>
<text transform="translate(221.90,2031.20) scale(1,1.03)" text-anchor="middle" font-size="28.2" font-weight="normal" >(WA)</text>
<text transform="translate(326.40,2000.10) scale(1,1.03)" text-anchor="middle" font-size="28.2" font-weight="normal" >S2</text>
<text transform="translate(326.40,2031.20) scale(1,1.03)" text-anchor="middle" font-size="28.2" font-weight="normal" >(SA)</text>
<text transform="translate(430.90,2000.10) scale(1,1.03)" text-anchor="middle" font-size="28.2" font-weight="normal" >S1</text>
<text transform="translate(430.90,2031.20) scale(1,1.03)" text-anchor="middle" font-size="28.2" font-weight="normal" >(TAS)</text>
<text transform="translate(535.40,2000.10) scale(1,1.03)" text-anchor="middle" font-size="28.2" font-weight="normal" >S3</text>
<text transform="translate(535.40,2031.20) scale(1,1.03)" text-anchor="middle" font-size="28.2" font-weight="normal" >(VIC)</text>
<text transform="translate(639.90,2000.10) scale(1,1.03)" text-anchor="middle" font-size="28.2" font-weight="normal" >S7</text>
<text transform="translate(639.90,2031.20) scale(1,1.03)" text-anchor="middle" font-size="28.2" font-weight="normal" >(SA)</text>
<text transform="translate(744.40,2000.10) scale(1,1.03)" text-anchor="middle" font-size="28.2" font-weight="normal" >S6</text>
<text transform="translate(744.40,2031.20) scale(1,1.03)" text-anchor="middle" font-size="28.2" font-weight="normal" >(VIC)</text>
<text transform="translate(848.90,2000.10) scale(1,1.03)" text-anchor="middle" font-size="28.2" font-weight="normal" >S4</text>
<text transform="translate(848.90,2031.20) scale(1,1.03)" text-anchor="middle" font-size="28.2" font-weight="normal" >(NSW)</text>
<text transform="translate(14.00,1388.60) scale(1,1.03)" text-anchor="start" font-size="28.2" font-weight="bold" >c</text>
<text transform="translate(22,1679) rotate(-90) scale(1,1.03)" text-anchor="middle" font-size="28.2">Rainfall (mm)</text>
<text transform="translate(81.4,1679) rotate(-90) scale(1,1.03)" text-anchor="middle" font-size="28.2">Gross margin (AUD ha<tspan dy="-14" font-size="20">−1</tspan><tspan dy="14">)</tspan></text>
<text transform="translate(957.5,1681) rotate(90) scale(1,1.03)" text-anchor="middle" font-size="28.2">Gross margin (AUD kg<tspan dy="-14" font-size="20">−1</tspan><tspan dy="14">)</tspan></text>
<rect x="1013.60" y="1824.00" width="37.80" height="37.60" fill="#56B4E9" stroke="#000" stroke-width="2.3"/>
<text transform="translate(1065.60,1853.60) scale(1,1.03)" text-anchor="start" font-size="28.35" font-weight="normal" >Rainfall (mm)</text>
<rect x="1013.60" y="1878.20" width="37.80" height="37.60" fill="#E69F00" stroke="#000" stroke-width="2.3"/>
<text transform="translate(1065.60,1907.80) scale(1,1.03)" text-anchor="start" font-size="28.35" font-weight="normal" >Gross margin per ha grazed land</text>
<rect x="1013.60" y="1932.40" width="37.80" height="37.60" fill="#009E73" stroke="#000" stroke-width="2.3"/>
<text transform="translate(1065.60,1962.00) scale(1,1.03)" text-anchor="start" font-size="28.35" font-weight="normal" >Gross margin per kg protein</text>
</svg>
</body></html>
